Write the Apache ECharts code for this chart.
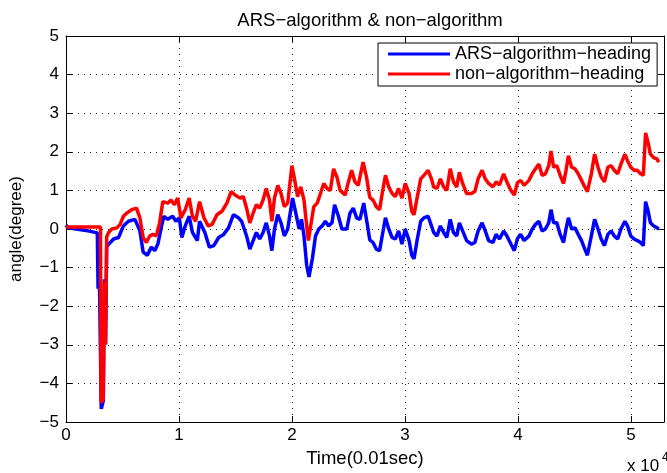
<!DOCTYPE html>
<html>
<head>
<meta charset="utf-8">
<script src="https://cdn.jsdelivr.net/npm/echarts@6/dist/echarts.min.js"></script>
<style>
  html, body { margin: 0; padding: 0; background: #fff; }
  #chart { width: 667px; height: 473px; }
</style>
</head>
<body>
<div id="chart"></div>
<script>
// Heading angle (degree) against sample time (0.01 s)
const timeArs = [
  0, 200, 1600, 2770, 2840, 2900, 3050, 3120, 3300, 3400,
  3500, 3600, 3920, 4210, 4650, 5080, 5520, 6100, 6540, 6830,
  7200, 7550, 7850, 8130, 8420, 8660, 9010, 9440, 9730, 10030,
  10250, 10550, 10900, 11190, 11620, 11820, 12290, 12690, 13080, 13510,
  13950, 14380, 14820, 15260, 15540, 15980, 16270, 16560, 16850, 17140,
  17440, 17720, 18010, 18220, 18450, 18740, 19030, 19320, 19620, 20050,
  20340, 20630, 20840, 21060, 21300, 21500, 21800, 22080, 22370, 22670,
  22950, 23240, 23540, 23770, 24110, 24410, 24850, 25130, 25420, 25720,
  26010, 26350, 26640, 26880, 27170, 27460, 27750, 27980, 28270, 28560,
  28860, 29140, 29430, 29730, 30020, 30360, 30600, 30800, 31090, 31390,
  31670, 32050, 32340, 32540, 32830, 33130, 33420, 33700, 34000, 34290,
  34580, 34810, 35100, 35450, 35880, 36180, 36470, 36820, 37100, 37400,
  37780, 38060, 38360, 38730, 39020, 39370, 39670, 39950, 40240, 40540,
  40970, 41260, 41550, 41850, 42130, 42420, 42720, 42920, 43150, 43440,
  43730, 44030, 44250, 44460, 44750, 45040, 45330, 45620, 45910, 46140,
  46490, 46780, 47080, 47360, 47650, 47950, 48240, 48520, 48820, 49110,
  49460, 49690, 49980, 50270, 50560, 50850, 51090, 51290, 51520, 51720,
  52010, 52310, 52450
];
const headingArs = [
  0.1, 0.03, -0.03, -0.1, -1.55, -0.12, -0.12, -4.66, -4.45, -1.3,
  -2.97, -0.45, -0.35, -0.26, -0.22, 0.08, 0.2, 0.25, -0.05, -0.6,
  -0.68, -0.47, -0.56, -0.39, 0.03, 0.33, 0.25, 0.33, 0.2, 0.29,
  -0.22, 0.08, 0.33, -0.09, -0.3, 0.2, -0.09, -0.47, -0.43, -0.22,
  -0.14, 0.03, 0.37, 0.29, 0.2, -0.18, -0.52, -0.3, -0.09, -0.26,
  -0.09, 0.16, -0.18, -0.56, 0, 0.37, 0.16, -0.18, 0, 0.8,
  0.41, 0, 0.25, -0.18, -0.94, -1.24, -0.77, -0.18, 0, 0.08,
  0.2, 0.08, 0.16, 0.63, 0.33, 0, 0, 0.41, 0.54, 0.29,
  0.25, 0.67, 0.16, -0.28, -0.35, -0.52, -0.56, -0.18, 0.29, 0,
  -0.22, -0.26, -0.05, -0.39, 0, -0.3, -0.68, -0.77, -0.26, 0.2,
  0.29, 0.33, 0.08, -0.09, -0.18, 0.08, -0.09, -0.22, 0.25, -0.09,
  -0.18, 0.16, -0.05, -0.3, -0.39, -0.35, -0.05, 0.16, -0.05, -0.3,
  -0.35, -0.14, -0.26, -0.05, -0.18, -0.39, -0.56, -0.25, -0.14, -0.3,
  -0.18, 0, 0.12, 0.2, -0.05, 0, 0.16, 0.5, 0.16, 0.16,
  -0.14, -0.35, 0, 0.29, 0, 0.03, -0.14, -0.3, -0.52, -0.68,
  -0.18, 0.25, 0, -0.26, -0.43, -0.14, -0.05, -0.18, -0.26, 0,
  0.2, 0.08, -0.18, -0.26, -0.3, -0.35, -0.43, 0.71, 0.46, 0.16,
  0.08, 0.03, 0
];
const timeNon = [
  0, 3050, 3100, 3300, 3400, 3500, 3600, 3770, 4060, 4500,
  4790, 5080, 5370, 5810, 6240, 6540, 6830, 7110, 7410, 7700,
  7990, 8280, 8570, 9010, 9290, 9590, 9880, 10170, 10550, 10900,
  11190, 11470, 11820, 12210, 12580, 12930, 13360, 13800, 14240, 14610,
  14960, 15400, 15690, 15980, 16270, 16560, 16850, 17140, 17440, 17720,
  18010, 18220, 18450, 18740, 19030, 19320, 19620, 19990, 20190, 20490,
  20780, 21060, 21300, 21450, 21650, 21930, 22230, 22520, 22810, 23100,
  23390, 23680, 23970, 24260, 24700, 24990, 25280, 25570, 25860, 26290,
  26590, 26880, 27170, 27460, 27750, 27980, 28270, 28560, 28860, 29140,
  29430, 29730, 30020, 30360, 30600, 30800, 31090, 31390, 31670, 32050,
  32340, 32540, 32830, 33130, 33420, 33700, 34000, 34290, 34580, 34810,
  35100, 35450, 35880, 36180, 36470, 36820, 37100, 37400, 37780, 38060,
  38360, 38730, 39020, 39370, 39670, 39950, 40240, 40540, 40970, 41260,
  41550, 41850, 42130, 42420, 42720, 42920, 43150, 43440, 43730, 44030,
  44250, 44460, 44750, 45040, 45330, 45620, 45910, 46140, 46490, 46780,
  47080, 47360, 47650, 47950, 48240, 48520, 48820, 49110, 49460, 49690,
  49980, 50270, 50560, 50850, 51090, 51290, 51520, 51720, 52010, 52310,
  52450
];
const headingNon = [
  0.05, 0.05, -4.5, -4.4, -1.36, -3.0, -0.2, -0.09, 0, 0.03,
  0.12, 0.33, 0.41, 0.5, 0.54, 0.29, -0.22, -0.35, -0.18, -0.14,
  -0.18, 0.16, 0.71, 0.67, 0.75, 0.63, 0.8, 0.29, 0.5, 0.8,
  0.33, 0.2, 0.71, 0.29, 0.08, 0.12, 0.37, 0.46, 0.67, 0.97,
  0.88, 0.8, 0.84, 0.54, 0.16, 0.41, 0.63, 0.54, 0.75, 1.05,
  0.75, 0.2, 0.8, 1.13, 0.92, 0.58, 0.67, 1.64, 1.35, 0.84,
  1.09, 0.75, 0.08, -0.3, 0.08, 0.58, 0.67, 0.92, 1.18, 1.05,
  1.0, 1.56, 1.35, 1.0, 0.88, 1.22, 1.52, 1.22, 1.13, 1.73,
  1.35, 0.82, 0.75, 0.58, 0.5, 0.92, 1.39, 1.09, 0.92, 0.84,
  1.05, 0.8, 1.18, 0.92, 0.46, 0.37, 0.84, 1.3, 1.39, 1.52,
  1.3, 1.09, 1.05, 1.3, 1.09, 1.0, 1.56, 1.22, 1.09, 1.47,
  1.18, 0.92, 0.92, 0.97, 1.3, 1.52, 1.3, 1.18, 1.09, 1.22,
  1.14, 1.43, 1.22, 1.0, 0.88, 1.2, 1.26, 1.13, 1.26, 1.43,
  1.56, 1.68, 1.39, 1.43, 1.64, 2.02, 1.6, 1.64, 1.39, 1.18,
  1.52, 1.9, 1.6, 1.56, 1.43, 1.26, 1.09, 0.97, 1.43, 1.94,
  1.6, 1.35, 1.22, 1.6, 1.64, 1.52, 1.43, 1.68, 1.94, 1.77,
  1.6, 1.52, 1.52, 1.43, 1.39, 2.49, 2.23, 1.94, 1.85, 1.81,
  1.73
];
const xTickLabels = ['0', '1', '2', '3', '4', '5'];
const yTickLabels = ['\u22125', '\u22124', '\u22123', '\u22122', '\u22121', '0', '1', '2', '3', '4', '5'];
const seriesNames = ['ARS\u2212algorithm\u2212heading', 'non\u2212algorithm\u2212heading'];

const zip = (t, v) => t.map((x, i) => [x, v[i]]);
const FONT = 'Liberation Sans, Arial, Helvetica, sans-serif';
const TEXT_SIZE = 18.5;
const X_MAX = 52920;

const chart = echarts.init(document.getElementById('chart'), null, { renderer: 'canvas' });

const baseX = {
  type: 'value', min: 0, max: X_MAX, interval: 10000,
  axisLine: { show: true, onZero: false, lineStyle: { color: '#000', width: 1 } },
  axisTick: { show: true, inside: true, length: 6, lineStyle: { color: '#000', width: 1 } }
};
const baseY = {
  type: 'value', min: -5, max: 5, interval: 1,
  axisLine: { show: true, onZero: false, lineStyle: { color: '#000', width: 1 } },
  axisTick: { show: true, inside: true, length: 6, lineStyle: { color: '#000', width: 1 } }
};
const gridDots = { show: true, lineStyle: { color: '#222', width: 1, type: [1, 5] } };

chart.setOption({
  animation: false,
  backgroundColor: '#fff',
  textStyle: { fontFamily: FONT },
  title: {
    text: 'ARS\u2212algorithm & non\u2212algorithm',
    left: 365, top: 6, textAlign: 'center',
    textStyle: { fontFamily: FONT, fontSize: TEXT_SIZE, fontWeight: 'normal', color: '#000' }
  },
  legend: {
    orient: 'vertical', left: 378, top: 43,
    icon: 'rect', itemWidth: 62, itemHeight: 3, itemGap: 0,
    padding: [1, 6, 2, 10],
    backgroundColor: '#fff', borderColor: '#000', borderWidth: 1,
    textStyle: { fontFamily: FONT, fontSize: 18, color: '#000', lineHeight: 20 },
    data: seriesNames
  },
  grid: { left: 62, top: 36, width: 607, height: 394, containLabel: false },
  xAxis: [
    Object.assign({}, baseX, {
      position: 'bottom',
      name: 'Time(0.01sec)', nameLocation: 'middle', nameGap: 27,
      nameTextStyle: { fontFamily: FONT, fontSize: TEXT_SIZE, color: '#000' },
      axisLabel: {
        fontFamily: FONT, fontSize: 17, color: '#000', margin: 5,
        formatter: v => (v % 10000 === 0 ? xTickLabels[v / 10000] : '')
      },
      splitLine: gridDots
    }),
    Object.assign({}, baseX, {
      position: 'top', axisLabel: { show: false }, splitLine: { show: false }
    })
  ],
  yAxis: [
    Object.assign({}, baseY, {
      position: 'left',
      name: 'angle(degree)', nameLocation: 'middle', nameGap: 41,
      nameTextStyle: { fontFamily: FONT, fontSize: 17, color: '#000' },
      axisLabel: {
        fontFamily: FONT, fontSize: 17, color: '#000', margin: 7,
        formatter: v => yTickLabels[Math.round(v) + 5]
      },
      splitLine: gridDots
    }),
    Object.assign({}, baseY, {
      position: 'right', axisLabel: { show: false }, splitLine: { show: false }
    })
  ],
  graphic: [
    { type: 'text', left: 627, top: 458,
      style: { text: 'x 10', fontFamily: FONT, fontSize: 17, fill: '#000' } },
    { type: 'text', left: 662, top: 452,
      style: { text: '4', fontFamily: FONT, fontSize: 12, fill: '#000' } }
  ],
  series: [
    {
      name: seriesNames[0], type: 'line', data: zip(timeArs, headingArs),
      showSymbol: false, symbol: 'none', color: '#0000ff',
      lineStyle: { color: '#0000ff', width: 3.5 }, z: 3
    },
    {
      name: seriesNames[1], type: 'line', data: zip(timeNon, headingNon),
      showSymbol: false, symbol: 'none', color: '#ff0000',
      lineStyle: { color: '#ff0000', width: 3.5 }, z: 4
    }
  ]
});
</script>
</body>
</html>
